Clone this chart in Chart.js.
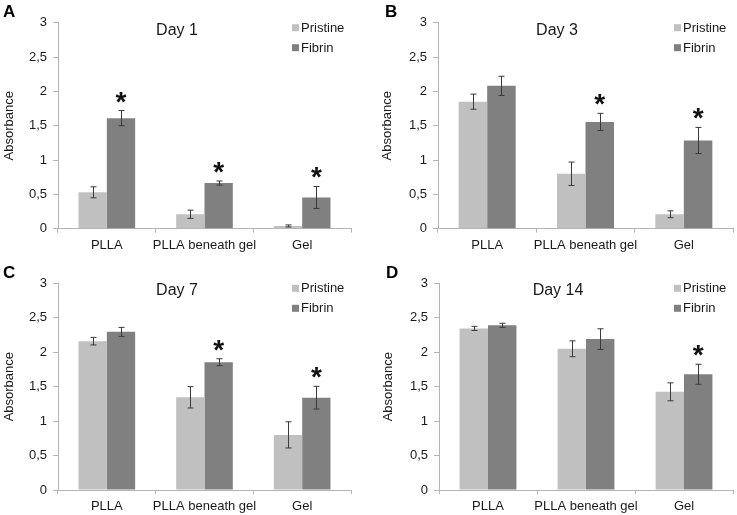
<!DOCTYPE html>
<html>
<head>
<meta charset="utf-8">
<script src="https://cdn.jsdelivr.net/npm/chart.js@4/dist/chart.umd.min.js"></script>
<style>
  html, body { margin: 0; padding: 0; background: #fff; }
  body { width: 737px; height: 515px; position: relative; overflow: hidden; }
  canvas { position: absolute; }
</style>
</head>
<body>
<canvas id="cA" width="368" height="257" style="left:0px;top:0px"></canvas>
<canvas id="cB" width="369" height="257" style="left:368px;top:0px"></canvas>
<canvas id="cC" width="368" height="258" style="left:0px;top:257px"></canvas>
<canvas id="cD" width="369" height="258" style="left:368px;top:257px"></canvas>
<script>
// ---------- DATA ----------
const categories = ['PLLA', 'PLLA beneath gel', 'Gel'];
const seriesNames = ['Pristine', 'Fibrin'];
const yTicks = [0, 0.5, 1, 1.5, 2, 2.5, 3];

const day1Pristine    = [0.53, 0.21, 0.04];
const day1PristineErr = [0.08, 0.06, 0.015];
const day1Fibrin      = [1.61, 0.665, 0.455];
const day1FibrinErr   = [0.11, 0.03, 0.16];
const day1Sig         = [true, true, true];

const day3Pristine    = [1.85, 0.80, 0.21];
const day3PristineErr = [0.11, 0.17, 0.05];
const day3Fibrin      = [2.08, 1.555, 1.285];
const day3FibrinErr   = [0.14, 0.125, 0.19];
const day3Sig         = [false, true, true];

const day7Pristine    = [2.16, 1.345, 0.80];
const day7PristineErr = [0.055, 0.155, 0.19];
const day7Fibrin      = [2.295, 1.855, 1.34];
const day7FibrinErr   = [0.065, 0.05, 0.165];
const day7Sig         = [false, true, true];

const day14Pristine    = [2.345, 2.05, 1.425];
const day14PristineErr = [0.03, 0.115, 0.13];
const day14Fibrin      = [2.39, 2.19, 1.68];
const day14FibrinErr   = [0.03, 0.15, 0.145];
const day14Sig         = [false, false, true];

const panelTitles = ['Day 1', 'Day 3', 'Day 7', 'Day 14'];
const panelLetters = ['A', 'B', 'C', 'D'];

// ---------- STYLE ----------
const FONT = "'Liberation Sans', Arial, sans-serif";
const COL_PRISTINE = '#c0c0c0';
const COL_FIBRIN = '#808080';
const AXIS_COL = '#b4b4b4';
const TEXT_COL = '#1a1a1a';

const panels = {
  cA: { letter: panelLetters[0], title: panelTitles[0], p: day1Pristine, pe: day1PristineErr, f: day1Fibrin, fe: day1FibrinErr, sig: day1Sig,
        left: 58, top: 22.7, right: 351, bottom: 228.7, h: 257, w: 368, titlePad: 2, letterX: 3, letterY: 17 },
  cB: { letter: panelLetters[1], title: panelTitles[1], p: day3Pristine, pe: day3PristineErr, f: day3Fibrin, fe: day3FibrinErr, sig: day3Sig,
        left: 70, top: 22.7, right: 365, bottom: 228.7, h: 257, w: 369, titlePad: 12, letterX: 17, letterY: 17 },
  cC: { letter: panelLetters[2], title: panelTitles[2], p: day7Pristine, pe: day7PristineErr, f: day7Fibrin, fe: day7FibrinErr, sig: day7Sig,
        left: 58, top: 26.3, right: 351, bottom: 233, h: 258, w: 368, titlePad: 2, letterX: 3, letterY: 21.3 },
  cD: { letter: panelLetters[3], title: panelTitles[3], p: day14Pristine, pe: day14PristineErr, f: day14Fibrin, fe: day14FibrinErr, sig: day14Sig,
        left: 71, top: 26.3, right: 365, bottom: 233, h: 258, w: 369, titlePad: 13, letterX: 18, letterY: 21.3 }
};

const X_AXIS_H = 24;

const decorPlugin = {
  id: 'panelDecor',
  afterDatasetsDraw(chart) {
    const cfg = panels[chart.canvas.id];
    const ctx = chart.ctx;
    const ys = chart.scales.y;
    const errs = [cfg.pe, cfg.fe];
    const vals = [cfg.p, cfg.f];
    ctx.save();
    ctx.strokeStyle = '#3a3a3a';
    ctx.lineWidth = 1;
    for (let d = 0; d < 2; d++) {
      const meta = chart.getDatasetMeta(d);
      meta.data.forEach((el, i) => {
        const x = Math.round(el.x) + 0.5;
        const yHi = ys.getPixelForValue(vals[d][i] + errs[d][i]);
        const yLo = ys.getPixelForValue(vals[d][i] - errs[d][i]);
        ctx.beginPath();
        ctx.moveTo(x, yHi); ctx.lineTo(x, yLo);
        ctx.moveTo(x - 3, yHi); ctx.lineTo(x + 3, yHi);
        ctx.moveTo(x - 3, yLo); ctx.lineTo(x + 3, yLo);
        ctx.stroke();
      });
    }
    // significance asterisks over Fibrin bars
    const metaF = chart.getDatasetMeta(1);
    ctx.fillStyle = '#111';
    ctx.font = 'bold 28px ' + FONT;
    ctx.textAlign = 'center';
    ctx.textBaseline = 'alphabetic';
    metaF.data.forEach((el, i) => {
      if (!cfg.sig[i]) return;
      const yTop = ys.getPixelForValue(cfg.f[i] + cfg.fe[i]);
      ctx.fillText('*', el.x, yTop);
    });
    ctx.restore();
  },
  afterDraw(chart) {
    const cfg = panels[chart.canvas.id];
    const ctx = chart.ctx;
    const a = chart.chartArea;
    ctx.save();
    // panel letter
    ctx.fillStyle = '#000';
    ctx.font = 'bold 17px ' + FONT;
    ctx.textAlign = 'left';
    ctx.textBaseline = 'alphabetic';
    ctx.fillText(cfg.letter, cfg.letterX, cfg.letterY);
    // title
    ctx.font = '16px ' + FONT;
    ctx.textAlign = 'center';
    ctx.textBaseline = 'middle';
    ctx.fillStyle = TEXT_COL;
    ctx.fillText(cfg.title, a.left + 119, a.top + 7.5);
    // legend
    ctx.font = '13px ' + FONT;
    ctx.textAlign = 'left';
    const cols = [COL_PRISTINE, COL_FIBRIN];
    for (let k = 0; k < 2; k++) {
      const cy = a.top + 5 + k * 20;
      ctx.fillStyle = cols[k];
      ctx.fillRect(a.right - 59, cy - 3.5, 7, 7);
      ctx.fillStyle = TEXT_COL;
      ctx.fillText(seriesNames[k], a.right - 50, cy + 0.5);
    }
    ctx.restore();
  }
};

function makeChart(id) {
  const cfg = panels[id];
  new Chart(document.getElementById(id), {
    type: 'bar',
    data: {
      labels: categories,
      datasets: [
        { label: seriesNames[0], data: cfg.p, backgroundColor: COL_PRISTINE, borderWidth: 0 },
        { label: seriesNames[1], data: cfg.f, backgroundColor: COL_FIBRIN, borderWidth: 0 }
      ]
    },
    options: {
      responsive: false,
      animation: false,
      devicePixelRatio: 1,
      categoryPercentage: 0.58,
      barPercentage: 1.0,
      layout: {
        padding: {
          left: 0,
          top: cfg.top,
          right: cfg.w - cfg.right,
          bottom: cfg.h - cfg.bottom - X_AXIS_H
        }
      },
      plugins: {
        legend: { display: false },
        tooltip: { enabled: false },
        title: { display: false }
      },
      scales: {
        x: {
          afterFit(s) { s.height = X_AXIS_H; },
          grid: { display: true, drawOnChartArea: false, drawTicks: true, tickLength: 4, color: AXIS_COL, offset: true },
          border: { display: true, color: AXIS_COL, width: 1 },
          ticks: { color: TEXT_COL, font: { family: FONT, size: 13 }, padding: 5, maxRotation: 0, autoSkip: false }
        },
        y: {
          min: 0,
          max: 3,
          afterFit(s) { s.width = cfg.left; },
          afterBuildTicks(s) { s.ticks = yTicks.map(v => ({ value: v })); },
          grid: { display: true, drawOnChartArea: false, drawTicks: true, tickLength: 5, color: AXIS_COL },
          border: { display: true, color: AXIS_COL, width: 1 },
          ticks: {
            color: TEXT_COL,
            font: { family: FONT, size: 13 },
            padding: 6,
            callback: v => String(v).replace('.', ',')
          },
          title: {
            display: true,
            text: 'Absorbance',
            color: TEXT_COL,
            font: { family: FONT, size: 13 },
            padding: { top: cfg.titlePad, bottom: 0 }
          }
        }
      }
    },
    plugins: [decorPlugin]
  });
}

['cA', 'cB', 'cC', 'cD'].forEach(makeChart);
</script>
</body>
</html>
